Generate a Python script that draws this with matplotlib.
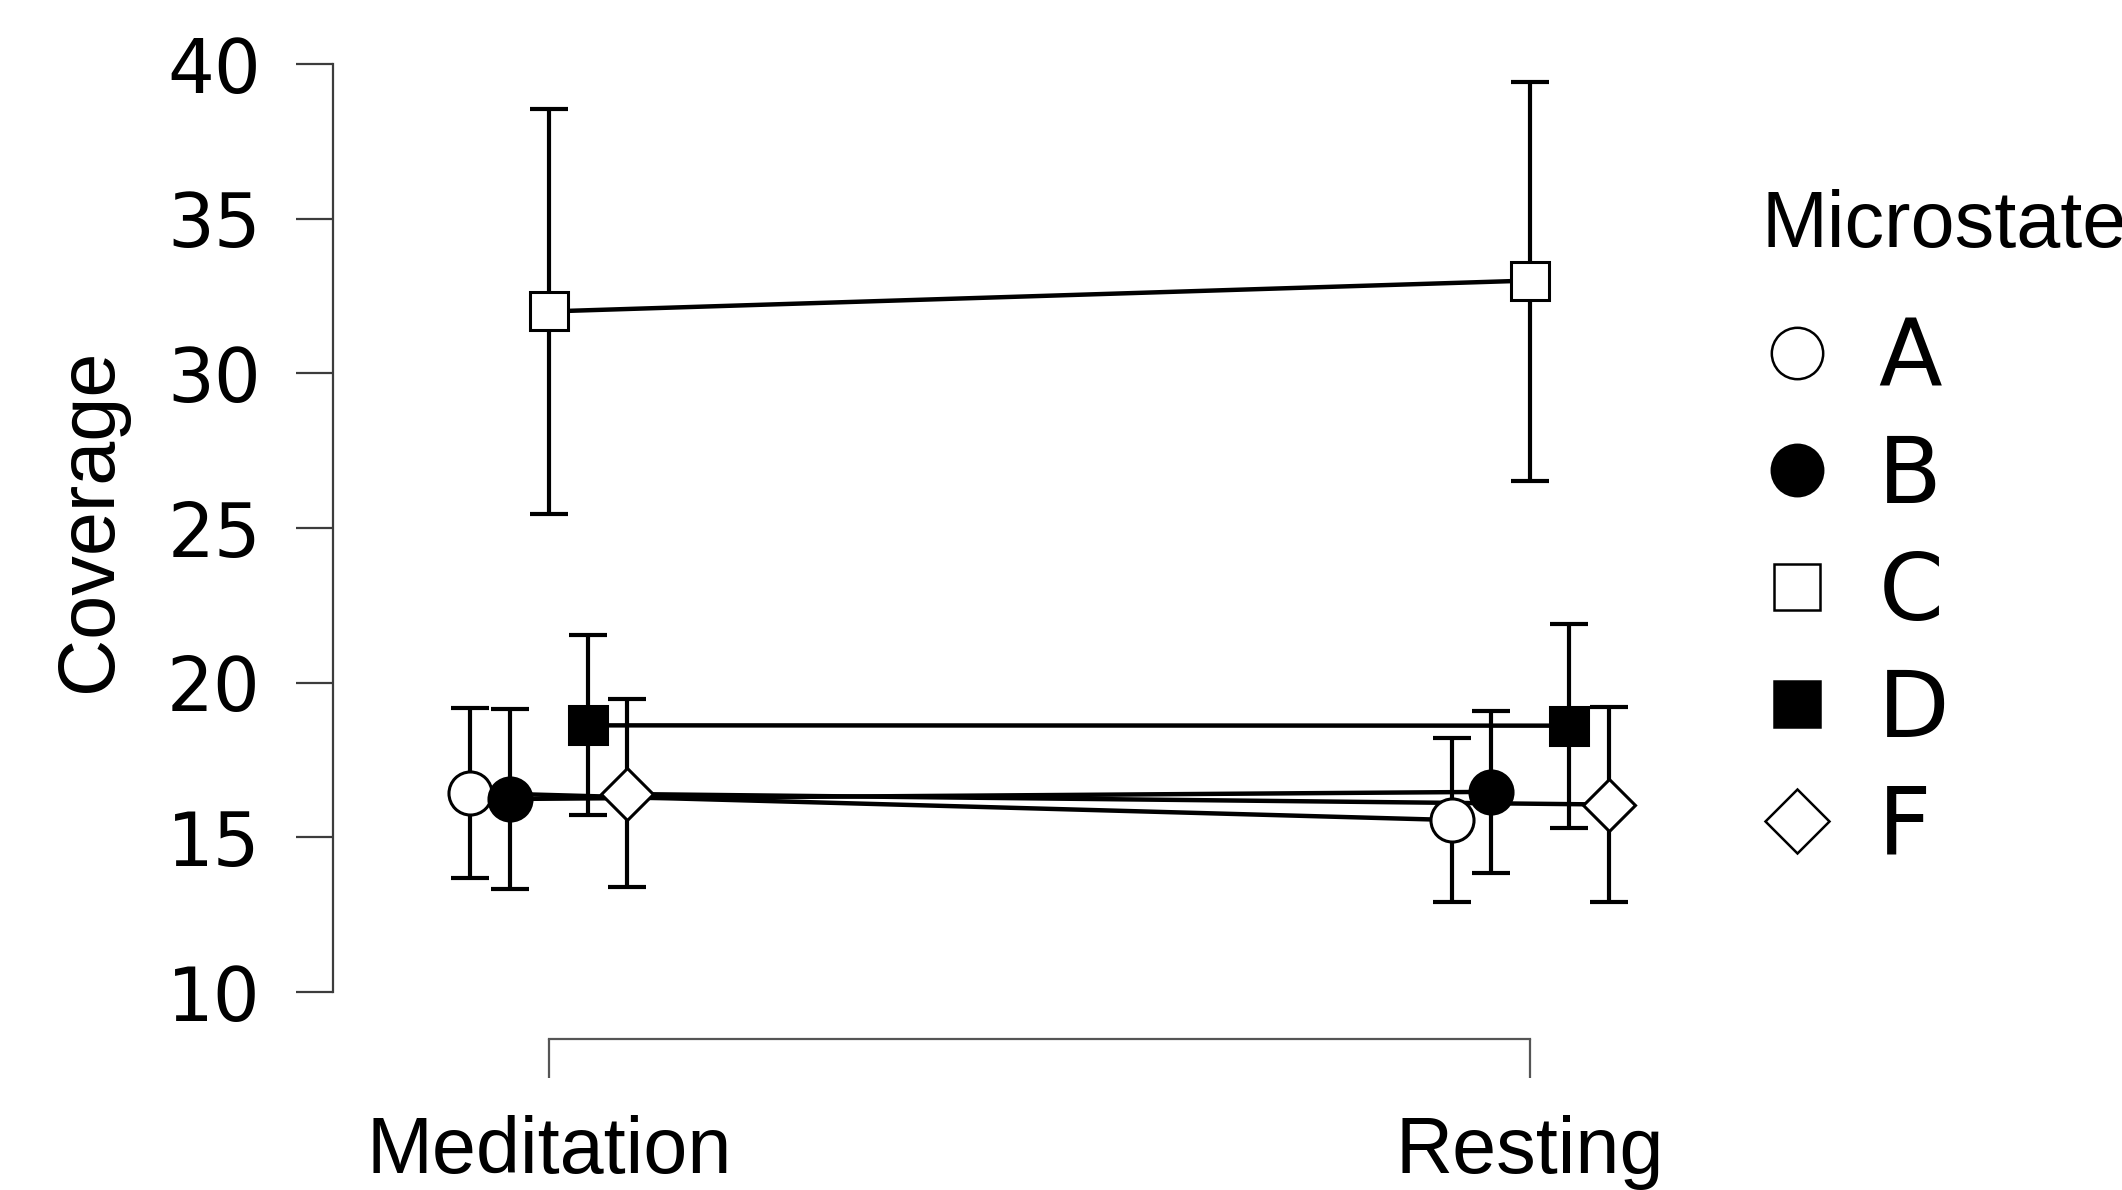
import matplotlib
import matplotlib.pyplot as plt
import numpy as np
from matplotlib.lines import Line2D

matplotlib.use("Agg")

# =========================
# Datos
# =========================
conditions = ["Meditation", "Resting"]
states = ["A", "B", "C", "D", "F"]

mean_A = [16.44, 15.56]
low_A = [13.69, 12.90]
high_A = [19.19, 18.20]

mean_B = [16.24, 16.47]
low_B = [13.32, 13.85]
high_B = [19.15, 19.08]

mean_C = [32.0, 33.0]
low_C = [25.44, 26.53]
high_C = [38.56, 39.43]

mean_D = [18.62, 18.61]
low_D = [15.72, 15.31]
high_D = [21.54, 21.90]

mean_F = [16.40, 16.06]
low_F = [13.38, 12.90]
high_F = [19.47, 19.20]

means = [mean_A, mean_B, mean_C, mean_D, mean_F]
lows = [low_A, low_B, low_C, low_D, low_F]
highs = [high_A, high_B, high_C, high_D, high_F]

# estilos de marcador
markers = ["o", "o", "s", "s", "D"]
faces = ["white", "black", "white", "black", "white"]
msizes = [31, 31, 28, 28, 26]
leg_sizes = [37, 37, 33, 33, 33]
offsets = [-0.08, -0.04, 0.0, 0.04, 0.08]

# =========================
# Figura
# =========================
W, H = 2122, 1190
fig = plt.figure(figsize=(W / 100, H / 100), dpi=100)
ax = fig.add_axes([333 / W, 1 - 992 / H, (1700 - 333) / W, (992 - 64) / H])

x = np.arange(len(conditions))

for i in range(len(states)):
    m = np.array(means[i])
    yerr = [m - np.array(lows[i]), np.array(highs[i]) - m]
    xs = x + offsets[i]
    ax.errorbar(xs, m, yerr=yerr, fmt="none", ecolor="black",
                elinewidth=3.0, capsize=14, capthick=3.0, zorder=2)
    ax.plot(xs, m, color="black", lw=3.2, zorder=3)
    ax.plot(xs, m, linestyle="none", marker=markers[i], markersize=msizes[i],
            markerfacecolor=faces[i], markeredgecolor="black",
            markeredgewidth=2.2, zorder=4 + i)

ax.set_xlim(-0.22, 1.173)
ax.set_ylim(10, 40)

spine_col = "#3c3c3c"
for s in ["top", "right"]:
    ax.spines[s].set_visible(False)
ax.spines["left"].set_bounds(10, 40)
ax.spines["left"].set_color(spine_col)
ax.spines["left"].set_linewidth(1.6)
ax.spines["bottom"].set_position(("outward", 33.8))
ax.spines["bottom"].set_bounds(0, 1)
ax.spines["bottom"].set_color("#555555")
ax.spines["bottom"].set_linewidth(1.6)

ax.set_yticks([10, 15, 20, 25, 30, 35, 40])
ax.tick_params(axis="y", direction="out", length=27, width=1.6,
               color=spine_col, pad=25, labelsize=53)
for lab in ax.get_yticklabels():
    lab.set_family("DejaVu Sans")

ax.set_xticks(x)
ax.set_xticklabels(conditions, family="Liberation Sans", fontsize=57)
ax.tick_params(axis="x", direction="out", length=28, width=1.6,
               color="#555555", pad=27)

fig.text(90 / W, 1 - 520 / H, "Coverage", rotation=90, ha="center",
         va="center", family="Liberation Sans", fontsize=57)

# =========================
# Leyenda
# =========================
fig.text(1761 / W, 1 - 247 / H, "Microstate", ha="left", va="baseline",
         family="Liberation Sans", fontsize=57)

handles = [
    Line2D([], [], linestyle="none", marker=markers[i], markersize=leg_sizes[i],
           markerfacecolor=faces[i], markeredgecolor="black", markeredgewidth=1.8)
    for i in range(len(states))
]
leg = fig.legend(handles, states, loc="upper left",
                 bbox_to_anchor=(1762 / W, 1 - 315 / H),
                 bbox_transform=fig.transFigure, frameon=False,
                 borderpad=0, borderaxespad=0, numpoints=1,
                 handlelength=0.75, handletextpad=0.5, labelspacing=0.29,
                 prop={"family": "DejaVu Sans", "size": 67})

fig.savefig("out.png", dpi=100)
